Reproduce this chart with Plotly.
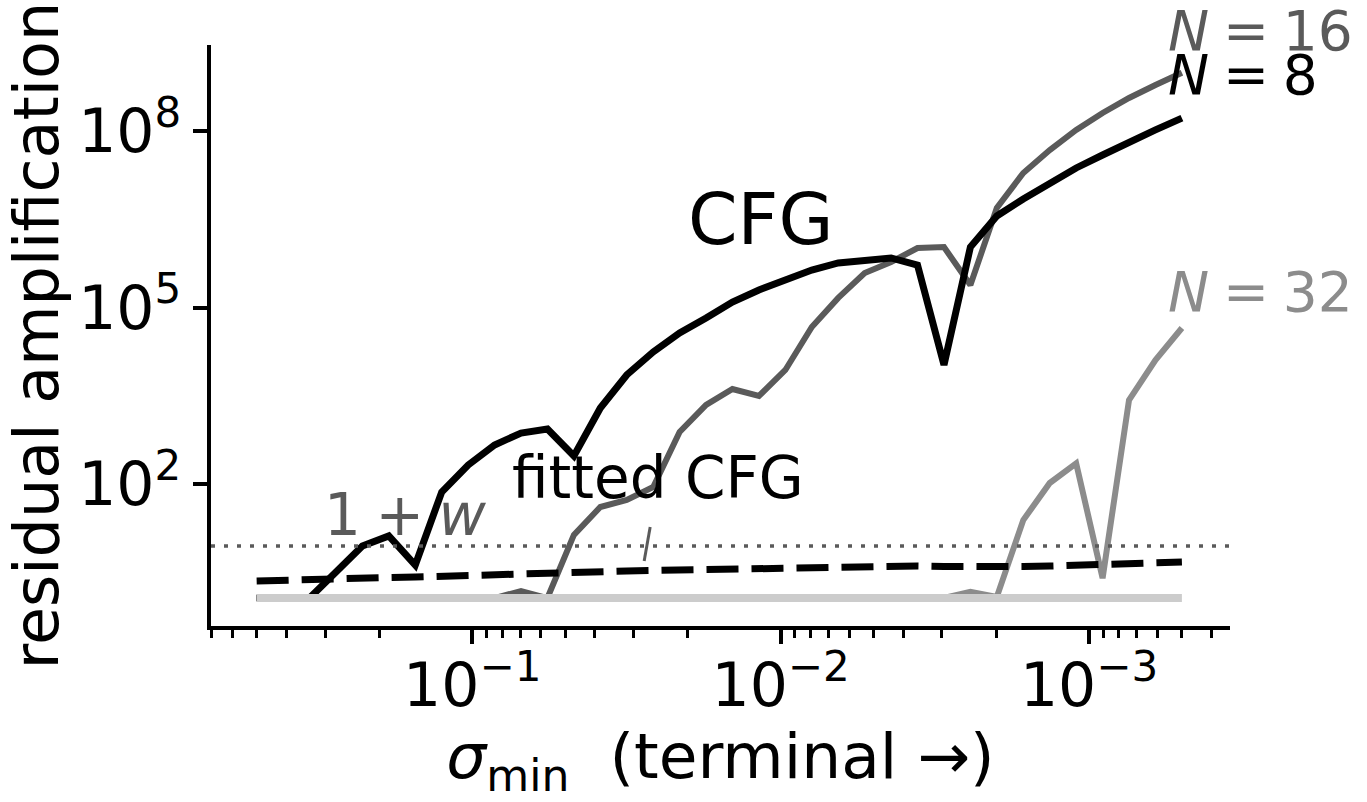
import plotly.graph_objects as go

# ---------------- data ----------------
SIGMA_MIN = [0.5, 0.4104, 0.3369, 0.2765, 0.2271, 0.1864, 0.1530, 0.1256, 0.1031,
             0.08465, 0.06948, 0.05703, 0.04681, 0.03843, 0.03155, 0.02589, 0.02126,
             0.01745, 0.01433, 0.01176, 0.009654, 0.007924, 0.006505, 0.005340,
             0.004384, 0.003599, 0.002954, 0.002425, 0.001991, 0.001634, 0.001341,
             0.001101, 0.0009039, 0.0007420, 0.0006091, 0.0005]

AMP_N8 = [1.15, 1.15, 1.15, 3.19, 8.8, 13.1, 4.19, 73, 210, 460, 736, 861, 299,
          1963, 7150, 17600, 37000, 66500, 124000, 199000, 294000, 436000, 574000,
          645000, 698000, 530000, 10600, 1.07e6, 3.61e6, 7.03e6, 1.31e7, 2.37e7,
          3.94e7, 6.55e7, 1.05e8, 1.67e8]

AMP_N16 = [1.15, 1.15, 1.15, 1.15, 1.15, 1.15, 1.15, 1.15, 1.15, 1.15, 1.51, 1.15,
           13.6, 40.6, 53.4, 89, 766, 2210, 4130, 3140, 8690, 46800, 146000, 387000,
           597000, 1.03e6, 1.07e6, 242000, 4.94e6, 1.95e7, 4.79e7, 1.05e8, 2.04e8,
           3.67e8, 6.11e8, 9.89e8]

AMP_N32 = [1.15] * 27 + [1.46, 1.2, 24.4, 104, 225, 2.5, 2680, 12800, 45000]

AMP_BASE = [1.15] * 36

AMP_FITTED = [2.24, 2.33, 2.38, 2.42, 2.52, 2.57, 2.62, 2.72, 2.78, 2.83, 2.95, 3.06,
              3.12, 3.19, 3.31, 3.38, 3.45, 3.52, 3.58, 3.73, 3.80, 3.88, 3.95, 4.03,
              4.03, 4.03, 3.95, 3.88, 3.88, 3.95, 4.03, 4.11, 4.19, 4.36, 4.53, 4.71]

ONE_PLUS_W = 8.8

X_TICKS = [1e-1, 1e-2, 1e-3]
X_TICKTEXT = ["10<sup>\u22121</sup>", "10<sup>\u22122</sup>", "10<sup>\u22123</sup>"]
Y_TICKS = [1e2, 1e5, 1e8]
Y_TICKTEXT = ["10<sup>2</sup>", "10<sup>5</sup>", "10<sup>8</sup>"]

# ---------------- layout geometry ----------------
W, H = 1367, 802
L, R, T, B = 210.7, 1230.0, 45.0, 626.0


def px(xp):
    return (xp - L) / (R - L)


def py(yp):
    return (B - yp) / (B - T)


FONT = "DejaVu Sans"
C_N16 = "#5a5a5a"
C_N32 = "#8c8c8c"
C_BASE = "#cccccc"
SP = "\u2005"

fig = go.Figure()
fig.add_trace(go.Scatter(x=SIGMA_MIN, y=AMP_N32, mode="lines",
                         line=dict(color=C_N32, width=6), showlegend=False))
fig.add_trace(go.Scatter(x=SIGMA_MIN, y=AMP_N16, mode="lines",
                         line=dict(color=C_N16, width=6), showlegend=False))
fig.add_trace(go.Scatter(x=SIGMA_MIN, y=AMP_N8, mode="lines",
                         line=dict(color="black", width=7), showlegend=False))
fig.add_trace(go.Scatter(x=SIGMA_MIN, y=AMP_BASE, mode="lines",
                         line=dict(color=C_BASE, width=8), showlegend=False))
fig.add_trace(go.Scatter(x=SIGMA_MIN, y=AMP_FITTED, mode="lines",
                         line=dict(color="black", width=7, dash="32px,13px"),
                         showlegend=False))

# 1 + w reference line
fig.add_shape(type="line", xref="paper", x0=0, x1=1, yref="y",
              y0=ONE_PLUS_W, y1=ONE_PLUS_W,
              line=dict(color=C_N16, width=3.5, dash="4px,9px"))
# pointer from "fitted CFG" label to dashed curve
fig.add_shape(type="line", xref="paper", yref="paper",
              x0=px(650), y0=py(527), x1=px(644), y1=py(561),
              line=dict(color=C_N16, width=3))

minor_vals = [m * 10 ** e for e in (-4, -3, -2, -1) for m in range(2, 10)]

fig.update_layout(
    width=W, height=H, autosize=False,
    margin=dict(l=L, r=W - R, t=T, b=H - B, pad=0),
    paper_bgcolor="white", plot_bgcolor="white",
    font=dict(family=FONT, color="black", size=60),
    xaxis=dict(
        type="log", range=[-0.153, -3.457], autorange=False,
        showgrid=False, zeroline=False,
        showline=True, linecolor="black", linewidth=3.5,
        ticks="outside", ticklen=14, tickwidth=3.5, tickcolor="black",
        tickmode="array", tickvals=X_TICKS, ticktext=X_TICKTEXT,
        tickfont=dict(size=60, family=FONT), ticklabelstandoff=-10,
        minor=dict(ticks="outside", ticklen=8, tickwidth=2.5, tickcolor="black",
                   tickmode="array", tickvals=minor_vals, showgrid=False),
        title=dict(text="<i>\u03c3</i><sub>min</sub>  (terminal \u2192)",
                   font=dict(size=63, family=FONT), standoff=6),
    ),
    yaxis=dict(
        type="log", range=[-0.415, 9.466], autorange=False,
        showgrid=False, zeroline=False,
        showline=True, linecolor="black", linewidth=3.5,
        ticks="outside", ticklen=14, tickwidth=3.5, tickcolor="black",
        tickmode="array", tickvals=Y_TICKS, ticktext=Y_TICKTEXT,
        tickfont=dict(size=60, family=FONT),
        title=dict(text="residual amplification",
                   font=dict(size=62, family=FONT), standoff=16),
    ),
)


def label(text, xp, yp, size, color, xanchor="center"):
    fig.add_annotation(text=text, xref="paper", yref="paper", x=px(xp), y=py(yp),
                       xanchor=xanchor, yanchor="middle", showarrow=False,
                       font=dict(size=size, color=color, family=FONT))


label("CFG", 760, 220, 71, "black")
label("fitted CFG", 658, 478, 58, "black")
label("1" + SP + "+" + SP + "<i>w</i>", 405, 515, 58, C_N16)
label("<i>N</i>" + SP + "=" + SP + "16", 1166, 31, 55, C_N16, "left")
label("<i>N</i>" + SP + "=" + SP + "8", 1166, 75, 55, "black", "left")
label("<i>N</i>" + SP + "=" + SP + "32", 1166, 292, 55, C_N32, "left")

fig.write_html("out.html")
